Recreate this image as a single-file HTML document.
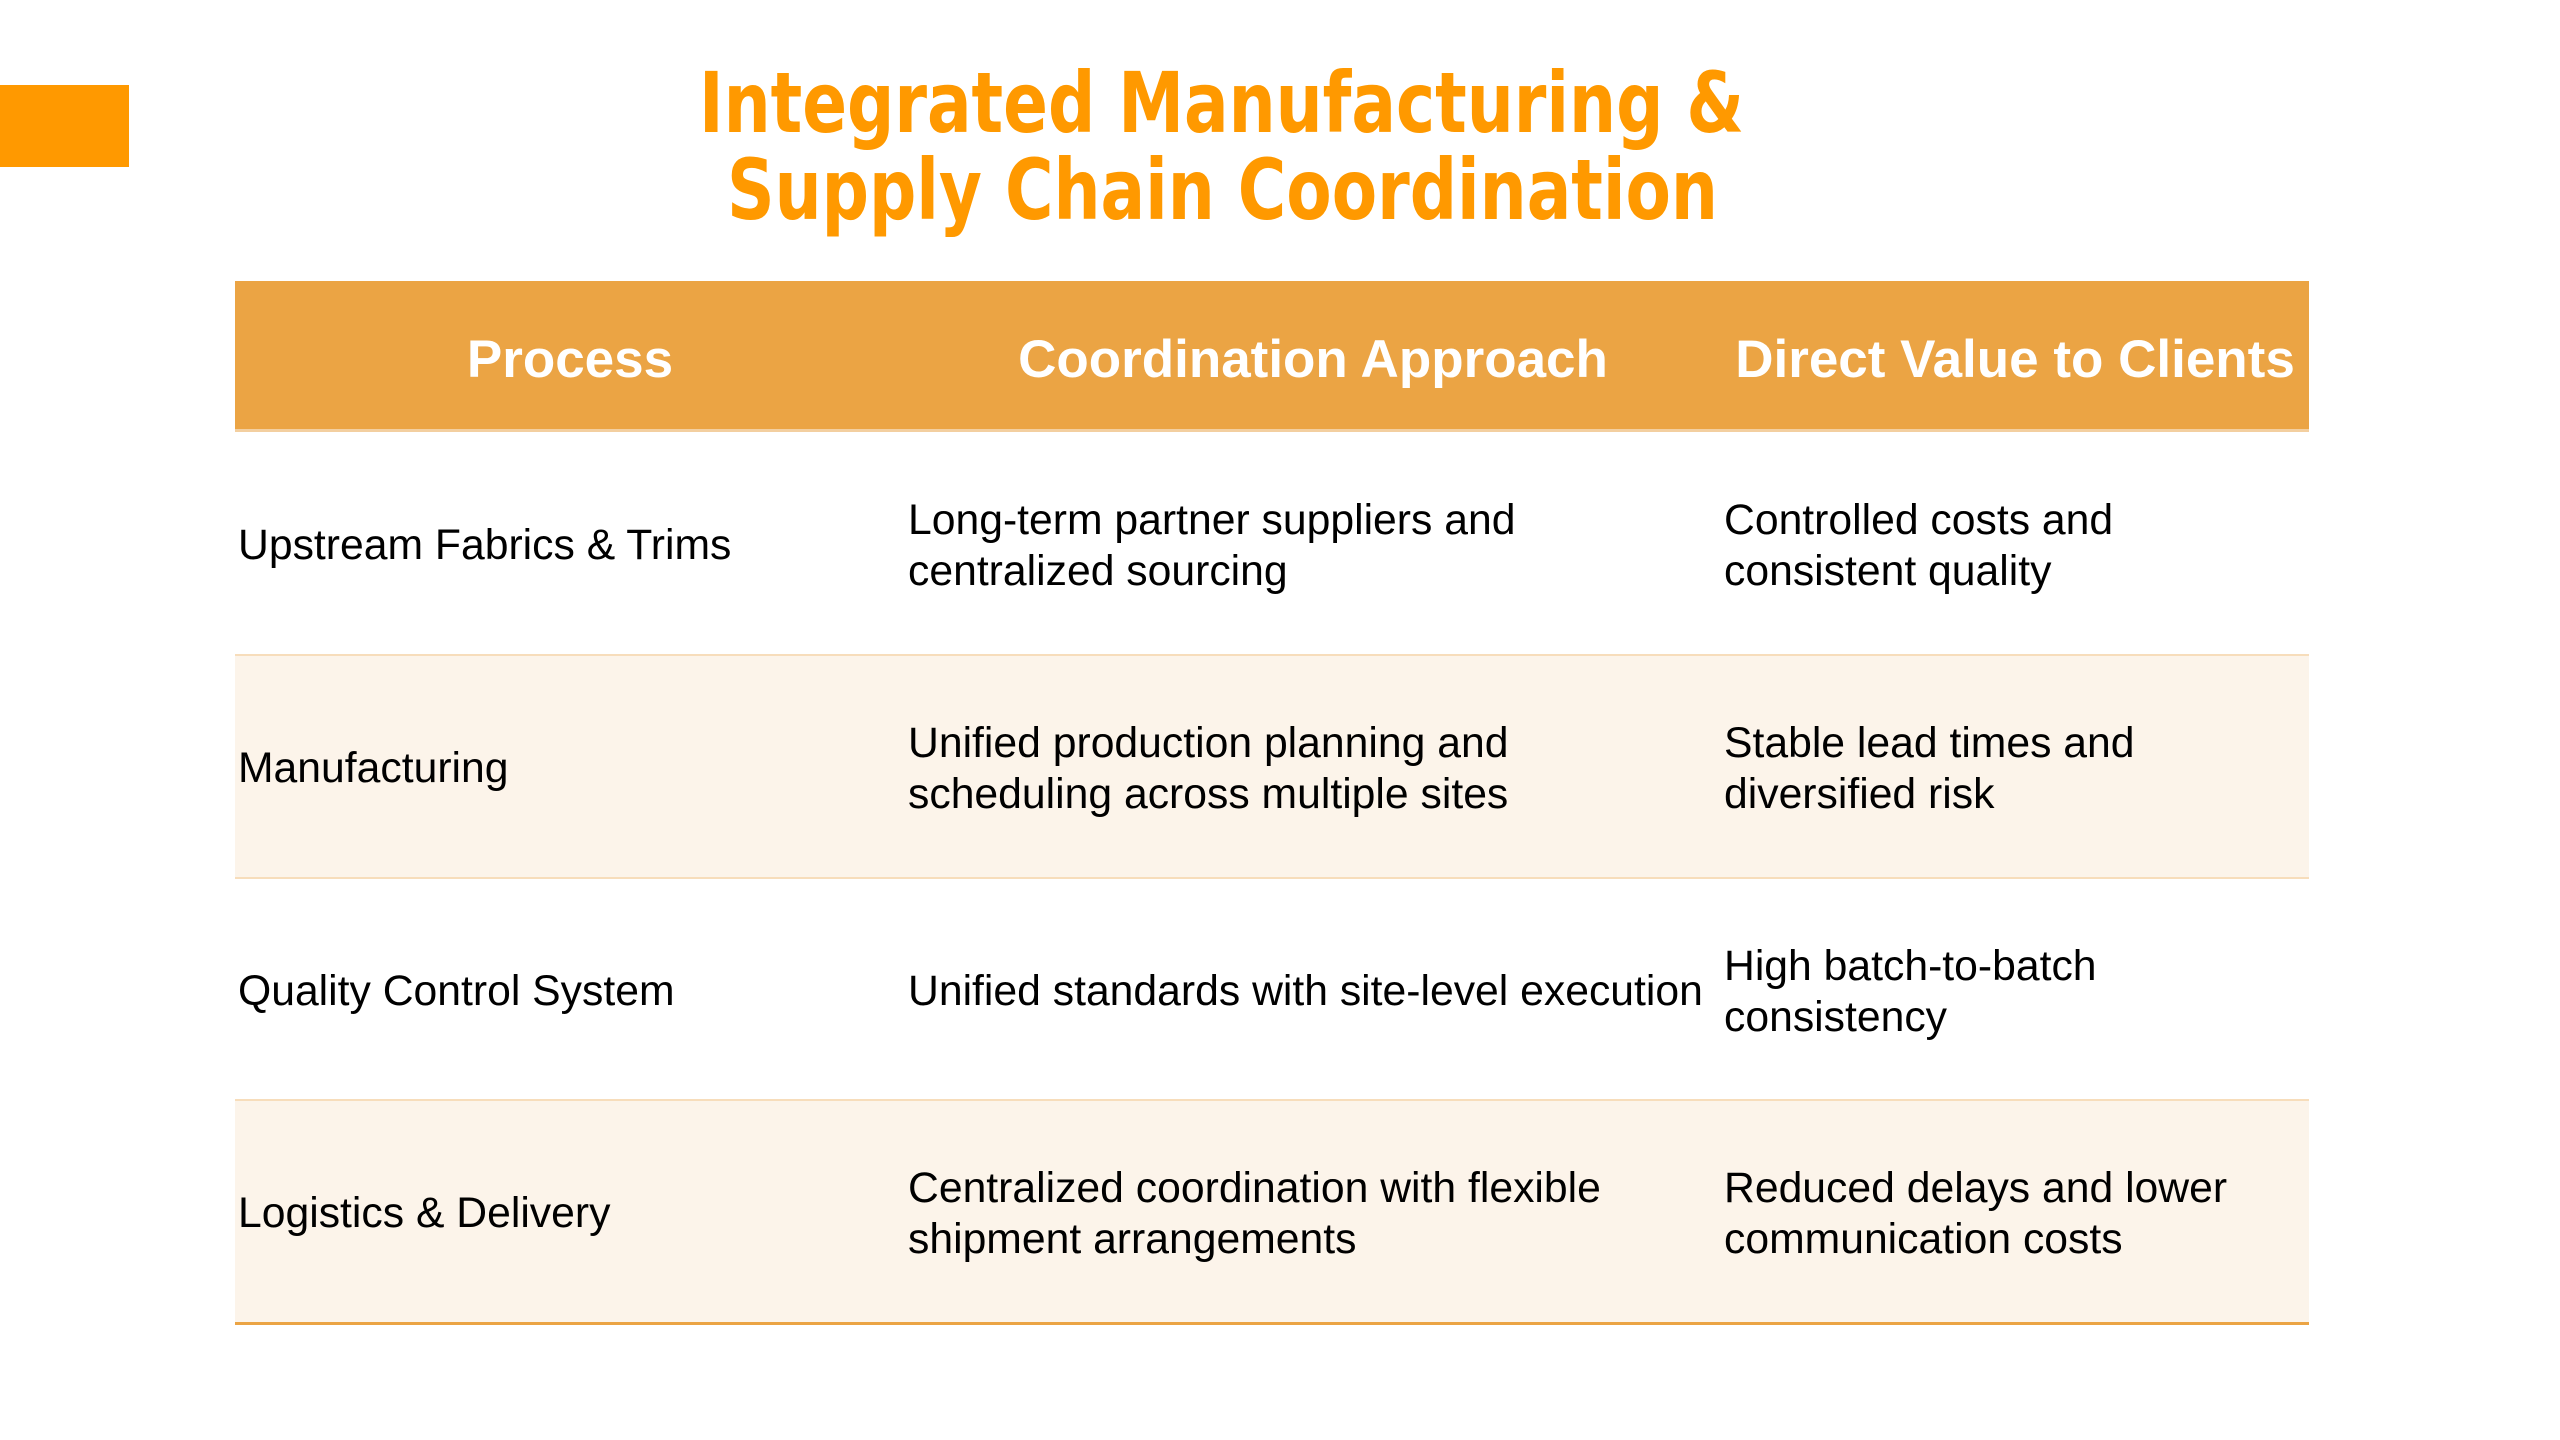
<!DOCTYPE html>
<html><head><meta charset="utf-8"><style>
html,body{margin:0;padding:0;background:#fff;}
svg{display:block;}
</style></head><body>
<svg width="2560" height="1440" viewBox="0 0 2560 1440" xmlns="http://www.w3.org/2000/svg">
<rect x="0" y="85" width="129" height="82" fill="#FF9900"/>
<g font-family="'DejaVu Sans Condensed','Liberation Sans',sans-serif" font-weight="bold" fill="#FF9900" font-size="84">
<text x="699" y="132" textLength="1045" lengthAdjust="spacingAndGlyphs">Integrated Manufacturing &amp;</text>
<text x="727" y="219" textLength="991" lengthAdjust="spacingAndGlyphs">Supply Chain Coordination</text>
</g>
<rect x="235" y="281" width="2074" height="150" fill="#EBA444"/>
<rect x="235" y="429" width="2074" height="3" fill="#F3CFA0"/>
<g font-family="'Liberation Sans',sans-serif" font-weight="bold" fill="#fff" font-size="53" text-anchor="middle">
<text x="570" y="377">Process</text>
<text x="1313" y="377">Coordination Approach</text>
<text x="2015" y="377">Direct Value to Clients</text>
</g>
<rect x="235" y="655" width="2074" height="223" fill="#FCF4EA"/>
<rect x="235" y="1100" width="2074" height="223" fill="#FCF4EA"/>
<rect x="235" y="654" width="2074" height="2" fill="#F7DDBB"/>
<rect x="235" y="877" width="2074" height="2" fill="#F7DDBB"/>
<rect x="235" y="1099" width="2074" height="2" fill="#F7DDBB"/>
<rect x="235" y="1322" width="2074" height="3" fill="#EBA444"/>
<g font-family="'Liberation Sans',sans-serif" fill="#000" font-size="42.7">
<text x="238" y="559">Upstream Fabrics &amp; Trims</text>
<text x="908" y="534">Long-term partner suppliers and</text>
<text x="908" y="585">centralized sourcing</text>
<text x="1724" y="534">Controlled costs and</text>
<text x="1724" y="585">consistent quality</text>

<text x="238" y="782">Manufacturing</text>
<text x="908" y="757">Unified production planning and</text>
<text x="908" y="808">scheduling across multiple sites</text>
<text x="1724" y="757">Stable lead times and</text>
<text x="1724" y="808">diversified risk</text>

<text x="238" y="1005">Quality Control System</text>
<text x="908" y="1005">Unified standards with site-level execution</text>
<text x="1724" y="980">High batch-to-batch</text>
<text x="1724" y="1031">consistency</text>

<text x="238" y="1227">Logistics &amp; Delivery</text>
<text x="908" y="1202">Centralized coordination with flexible</text>
<text x="908" y="1253">shipment arrangements</text>
<text x="1724" y="1202">Reduced delays and lower</text>
<text x="1724" y="1253">communication costs</text>
</g>
</svg>
</body></html>
